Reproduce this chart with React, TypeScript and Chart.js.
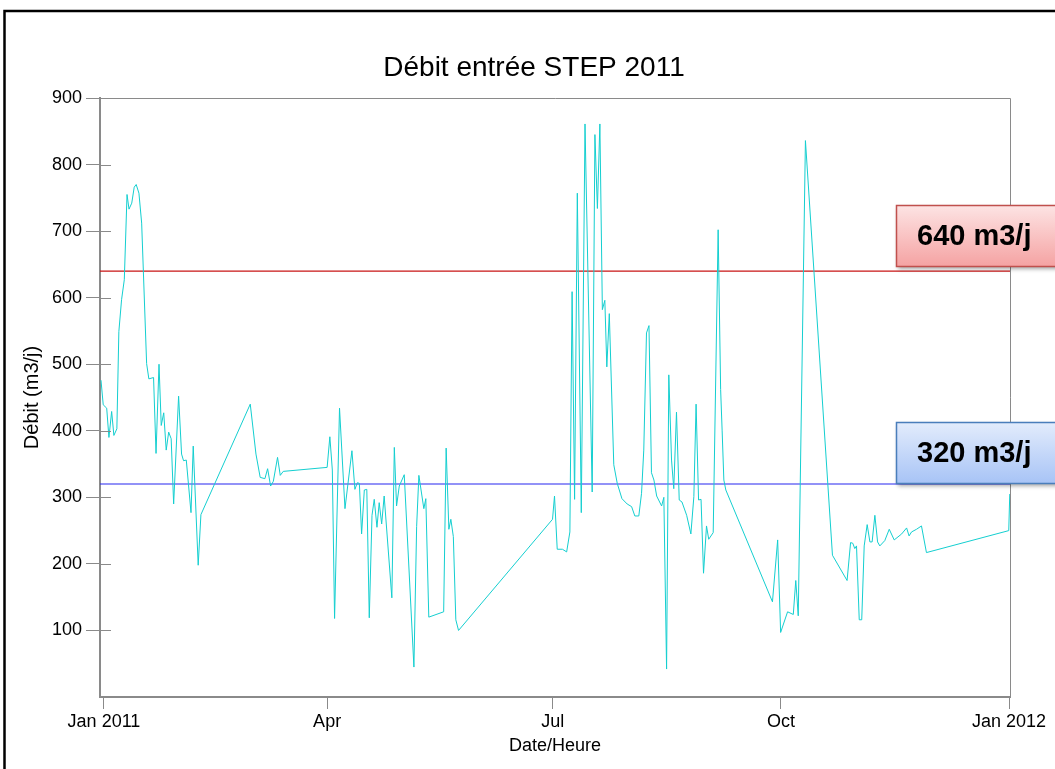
import { useEffect, useRef } from 'react';
import { Chart, registerables } from 'chart.js';

Chart.register(...registerables);

// Jours depuis le 1er janvier 2011 (fractionnaires) et débit journalier mesuré (m3/j)
const jours = [
  -1.2, -0.3, 1.1, 2.0, 3.1, 4.0, 5.2, 6.0, 7.1, 8.2, 9.3, 10.1, 11.2, 12.2, 13.0, 14.1, 15.2,
  17.2, 18.1, 20.0, 21.0, 22.2, 23.1, 24.1, 25.1, 26.1, 27.1, 28.1, 30.1, 31.3, 32.1, 33.2,
  35.1, 36.0, 38.0, 39.1, 59.0, 61.3, 63.0, 64.9, 66.0, 67.2, 68.3, 70.0, 71.1, 72.3,
  90.0, 91.1, 92.1, 93.0, 95.0, 97.2, 100.0, 101.2, 102.2, 103.0, 103.9, 105.0, 106.0,
  107.0, 108.1, 109.0, 110.1, 111.0, 112.0, 113.0, 116.1, 117.1, 118.0, 119.1, 121.1,
  125.0, 126.1, 127.0, 129.0, 129.8, 131.0, 137.0, 138.0, 139.1, 139.9, 140.9, 141.9, 143.0,
  180.9, 181.7, 182.8, 184.9, 186.6, 187.9, 188.8, 189.8, 190.9, 192.5, 194.0, 196.9,
  198.0, 199.0, 200.0, 201.0, 202.0, 202.8, 203.8, 205.6, 207.0, 208.9, 211.0, 212.8,
  214.1, 215.7, 216.8, 217.7, 218.8, 219.8, 220.8, 221.8, 222.9, 224.9, 225.8, 226.9,
  227.8, 228.9, 229.8, 230.9, 232.0, 233.1, 235.0, 236.7, 237.9, 238.8, 239.8, 240.8,
  241.8, 243.0, 243.9, 245.7, 247.7, 248.7, 249.3, 250.0, 250.8, 269.6, 271.7, 272.9,
  275.7, 278.0, 279.0, 280.0, 282.9, 293.8, 299.7, 301.1, 302.0, 302.8, 303.5, 304.6,
  305.6, 306.6, 307.8, 308.9, 309.8, 310.9, 312.0, 312.9, 314.9, 316.7, 318.7, 321.7,
  323.7, 324.7, 325.7, 327.7, 329.7, 331.7, 364.9, 365.3,
];

const debit = [
  476, 439, 434, 390, 429, 393, 403, 549, 597, 627, 755, 733, 742, 766, 770, 757, 712,
  501, 478, 480, 366, 500, 408, 427, 371, 398, 388, 290, 452, 365, 355, 356,
  277, 377, 198, 274, 440, 365, 330, 328, 343, 317, 324, 360, 333, 339,
  345, 391, 341, 118, 434, 283, 370, 312, 322, 321, 245, 311, 312,
  119, 273, 297, 255, 292, 260, 302, 149, 375, 287, 317, 334,
  45, 256, 333, 283, 298, 120, 128, 374, 252, 267, 241, 116, 100,
  267, 302, 222, 222, 218, 248, 609, 297, 757, 277, 861, 308,
  845, 734, 861, 582, 596, 496, 576, 349, 321, 298, 290, 286,
  272, 272, 306, 371, 547, 558, 337, 326, 302, 287, 300, 42,
  484, 356, 313, 428, 296, 293, 273, 245, 301, 440, 296, 297,
  186, 257, 237, 247, 702, 462, 401, 326, 311, 143, 236, 97,
  128, 124, 175, 122, 836, 213, 175, 232, 231, 223, 227, 116,
  116, 227, 259, 233, 233, 273, 233, 227, 235, 252, 236, 245,
  254, 242, 248, 252, 257, 217, 250, 305,
];

// Seuils de débit (m3/j)
const seuilHaut = 640;
const seuilBas = 320;

// Graduations de l'axe des dates (jours depuis le 1er janvier 2011)
const joursGraduation = [0, 90, 181, 273, 365];
const libellesGraduation = ['Jan 2011', 'Apr', 'Jul', 'Oct', 'Jan 2012'];
const graduationsDebit = [100, 200, 300, 400, 500, 600, 700, 800, 900];

const xMin = -1.6;
const xMax = 365.4;

const FONT = '"Liberation Sans", Arial, Helvetica, sans-serif';

const decorPlugin = {
  id: 'decor',
  beforeDraw(chart: any) {
    const { ctx, width, height } = chart;
    ctx.save();
    ctx.fillStyle = '#ffffff';
    ctx.fillRect(0, 0, width, height);
    // cadre noir extérieur
    ctx.strokeStyle = '#000000';
    ctx.lineWidth = 2.5;
    ctx.beginPath();
    ctx.moveTo(4.5, height + 2);
    ctx.lineTo(4.5, 11);
    ctx.lineTo(width + 2, 11);
    ctx.stroke();
    // titre
    ctx.fillStyle = '#000000';
    ctx.font = `28px ${FONT}`;
    ctx.textAlign = 'center';
    ctx.textBaseline = 'middle';
    ctx.fillText('Débit entrée STEP 2011', 534, 68);
    ctx.restore();
  },
  afterDatasetsDraw(chart: any) {
    const { ctx, chartArea } = chart;
    const y = chart.scales.y;
    ctx.save();
    // cadre gris de la zone de tracé (haut et droite)
    ctx.strokeStyle = '#8a8a8a';
    ctx.lineWidth = 1;
    ctx.beginPath();
    ctx.moveTo(chartArea.left, Math.round(chartArea.top) + 0.5);
    ctx.lineTo(Math.round(chartArea.right) + 0.5, Math.round(chartArea.top) + 0.5);
    ctx.lineTo(Math.round(chartArea.right) + 0.5, chartArea.bottom);
    ctx.stroke();
    // graduations intérieures de l'axe des débits
    for (const t of y.ticks) {
      const py = Math.round(y.getPixelForValue(t.value)) + 0.5;
      ctx.beginPath();
      ctx.moveTo(chartArea.left, py);
      ctx.lineTo(chartArea.left + 11, py);
      ctx.stroke();
    }
    ctx.restore();
  },
  afterDraw(chart: any) {
    const { ctx } = chart;
    const y = chart.scales.y;
    const boites = [
      { valeur: seuilHaut, decal: 66, haut: '#fde4e4', bas: '#f5a3a3', bord: '#c0504d' },
      { valeur: seuilBas, decal: 62, haut: '#e3ecfc', bas: '#a8c4f6', bord: '#4a7ebb' },
    ];
    ctx.save();
    for (const b of boites) {
      const top = Math.round(y.getPixelForValue(b.valeur)) - b.decal;
      const left = 896;
      const w = 200;
      const h = 61;
      const grad = ctx.createLinearGradient(0, top, 0, top + h);
      grad.addColorStop(0, b.haut);
      grad.addColorStop(1, b.bas);
      ctx.save();
      ctx.shadowColor = 'rgba(0,0,0,0.35)';
      ctx.shadowBlur = 4;
      ctx.shadowOffsetX = 2;
      ctx.shadowOffsetY = 3;
      ctx.fillStyle = grad;
      ctx.fillRect(left, top, w, h);
      ctx.restore();
      ctx.strokeStyle = b.bord;
      ctx.lineWidth = 1.5;
      ctx.strokeRect(left + 0.5, top + 0.5, w, h);
      ctx.fillStyle = '#000000';
      ctx.font = `bold 29px ${FONT}`;
      ctx.textAlign = 'left';
      ctx.textBaseline = 'middle';
      ctx.fillText(`${b.valeur} m3/j`, 917, top + h / 2 + 1);
    }
    ctx.restore();
  },
};

export default function App() {
  const canvasRef = useRef<HTMLCanvasElement | null>(null);

  useEffect(() => {
    if (!canvasRef.current) return;
    Chart.defaults.font.family = FONT;
    const points = jours.map((d, i) => ({ x: d, y: debit[i] }));
    const chart = new Chart(canvasRef.current, {
      type: 'line',
      data: {
        datasets: [
          {
            label: 'Débit',
            data: points,
            borderColor: '#14cfd0',
            borderWidth: 1,
            pointRadius: 0,
            tension: 0,
            order: 0,
          },
          {
            label: `${seuilHaut} m3/j`,
            data: [{ x: xMin, y: seuilHaut }, { x: xMax, y: seuilHaut }],
            borderColor: '#c81414',
            borderWidth: 1.2,
            pointRadius: 0,
            order: 1,
          },
          {
            label: `${seuilBas} m3/j`,
            data: [{ x: xMin, y: seuilBas }, { x: xMax, y: seuilBas }],
            borderColor: '#2626f0',
            borderWidth: 1.2,
            pointRadius: 0,
            order: 1,
          },
        ],
      },
      options: {
        responsive: false,
        animation: false,
        devicePixelRatio: 1,
        layout: { padding: { left: 0, right: 45, top: 98, bottom: 0 } },
        plugins: {
          legend: { display: false },
          tooltip: { enabled: false },
          title: { display: false },
        },
        scales: {
          x: {
            type: 'linear',
            min: xMin,
            max: xMax,
            afterBuildTicks: (s: any) => {
              s.ticks = joursGraduation.map((v) => ({ value: v }));
            },
            afterFit: (s: any) => {
              s.height = 72;
            },
            ticks: {
              autoSkip: false,
              maxRotation: 0,
              color: '#000000',
              font: { size: 18 },
              padding: 2,
              callback: (v: any) => {
                const i = joursGraduation.indexOf(Number(v));
                return i >= 0 ? libellesGraduation[i] : '';
              },
            },
            grid: {
              drawOnChartArea: false,
              color: '#8a8a8a',
              tickLength: 12,
              tickWidth: 1,
            },
            border: { color: '#8a8a8a', width: 2 },
            title: {
              display: true,
              text: 'Date/Heure',
              color: '#000000',
              font: { size: 18 },
              padding: { top: 0, bottom: 12 },
            },
          },
          y: {
            type: 'linear',
            min: 0,
            max: 900,
            afterBuildTicks: (s: any) => {
              s.ticks = graduationsDebit.map((v) => ({ value: v }));
            },
            afterFit: (s: any) => {
              s.width = 100;
            },
            ticks: {
              color: '#000000',
              font: { size: 18 },
              padding: 4,
            },
            grid: {
              drawOnChartArea: false,
              color: '#8a8a8a',
              tickLength: 14,
              tickWidth: 1,
            },
            border: { color: '#8a8a8a', width: 2 },
            title: {
              display: true,
              text: 'Débit (m3/j)',
              color: '#000000',
              font: { size: 20 },
              padding: { top: 20, bottom: 0 },
            },
          },
        },
      },
      plugins: [decorPlugin],
    });
    return () => chart.destroy();
  }, []);

  return (
    <div style={{ position: 'fixed', left: 0, top: 0, width: 1055, height: 769, background: '#fff' }}>
      <canvas ref={canvasRef} width={1055} height={769} style={{ display: 'block' }} />
    </div>
  );
}
